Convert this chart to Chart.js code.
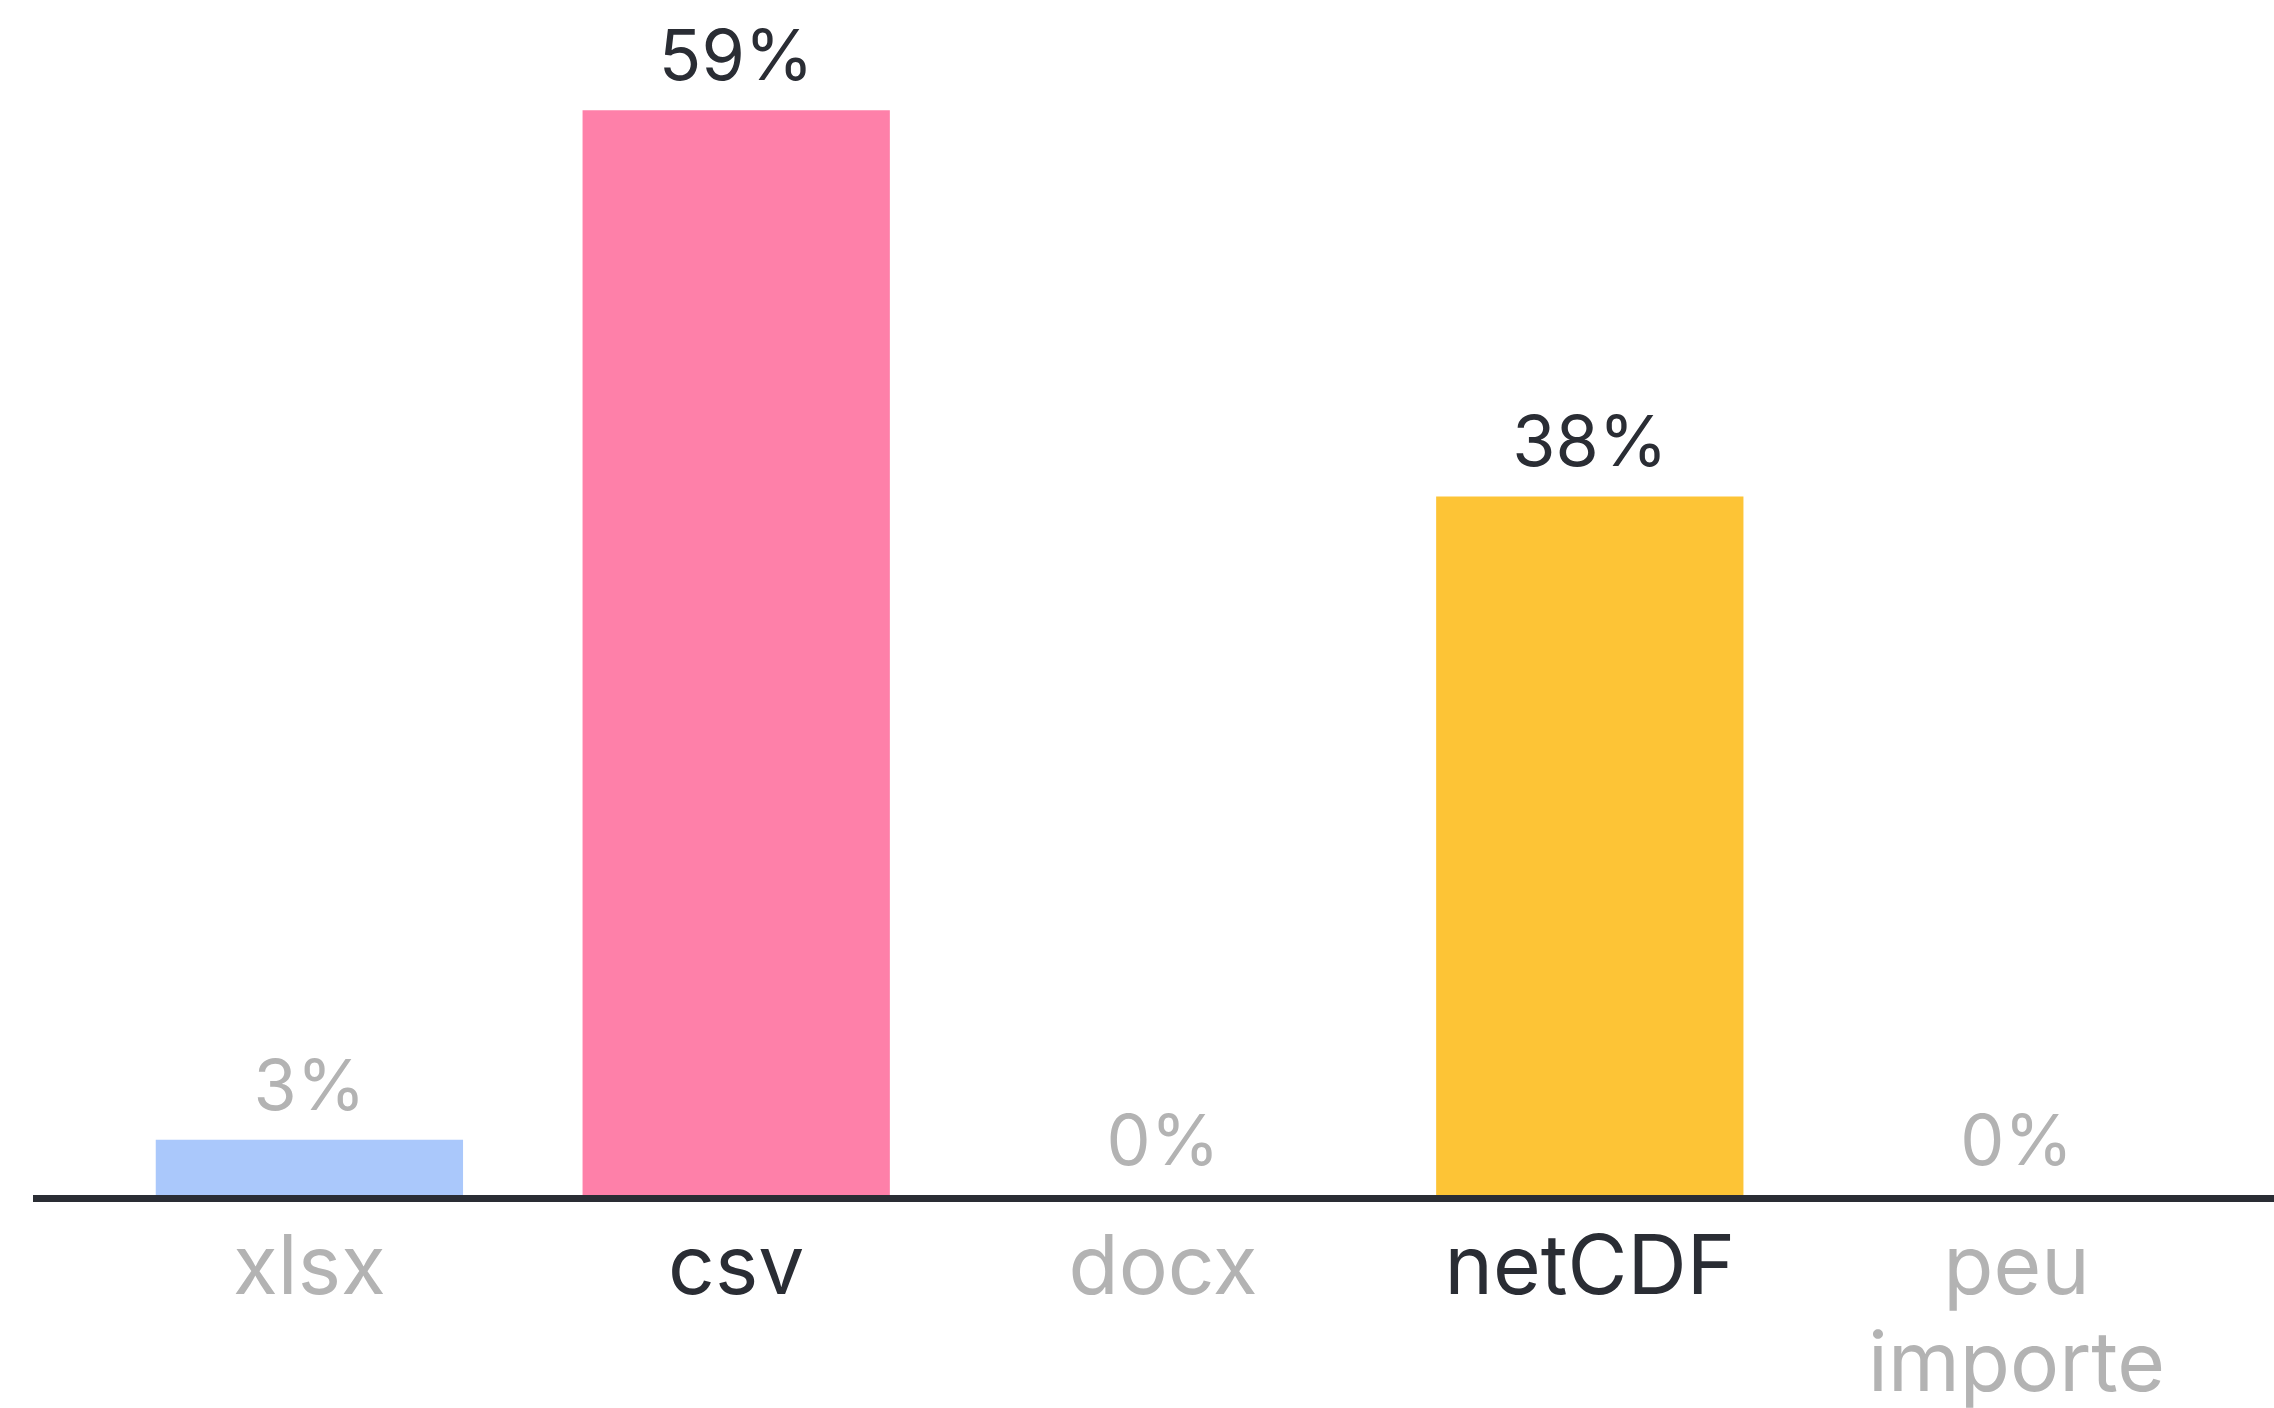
<!DOCTYPE html>
<html>
<head>
<meta charset="utf-8">
<script src="https://cdn.jsdelivr.net/npm/chart.js@4"></script>
<style>
  html, body { margin: 0; padding: 0; background: #fff; }
  #wrap { width: 2274px; height: 1408px; }
</style>
</head>
<body>
<div id="wrap"><canvas id="myChart"></canvas></div>
<script>
const categories = ['xlsx', 'csv', 'docx', 'netCDF', ['peu', 'importe']]
const values = [3, 59, 0, 38, 0]

const barColors = ['#aac8fb', '#fe80a9', '#cccccc', '#fdc436', '#cccccc']
const textColors = ['#b3b3b3', '#2a2d34', '#b3b3b3', '#2a2d34', '#b3b3b3']
const FONT = 'Inter, "Noto Sans", sans-serif'

// value labels above bars + the long baseline
const extras = {
    id: 'extras',
    afterDatasetsDraw(chart) {
        const ctx = chart.ctx
        const area = chart.chartArea
        ctx.save()
        ctx.strokeStyle = '#2a2d34'
        ctx.lineWidth = 7
        ctx.beginPath()
        ctx.moveTo(33, area.bottom + 3.5)
        ctx.lineTo(chart.width, area.bottom + 3.5)
        ctx.stroke()

        ctx.font = '70px ' + FONT
        ctx.textAlign = 'center'
        ctx.textBaseline = 'alphabetic'
        chart.getDatasetMeta(0).data.forEach((bar, i) => {
            ctx.fillStyle = textColors[i]
            ctx.fillText(values[i] + '%', bar.x, bar.y - 30)
        })
        ctx.restore()
    }
}

const ctx = document.getElementById('myChart').getContext('2d')
const chart = new Chart(ctx, {
    type: 'bar',
    data: {
        labels: categories,
        datasets: [{
            data: values,
            backgroundColor: barColors,
            barPercentage: 0.72,
            categoryPercentage: 1
        }]
    },
    options: {
        responsive: true,
        maintainAspectRatio: false,
        animation: false,
        layout: { padding: { left: 96, right: 44, top: 0, bottom: 0 } },
        plugins: { legend: { display: false }, tooltip: { enabled: false } },
        scales: {
            y: { display: false, min: 0, max: 65 },
            x: {
                grid: { display: false, drawTicks: false },
                border: { display: false },
                afterFit(scale) { scale.height = 213 },
                ticks: {
                    color: textColors,
                    padding: 26,
                    maxRotation: 0,
                    autoSkip: false,
                    font: { family: FONT, size: 82, lineHeight: 1.18 }
                }
            }
        }
    },
    plugins: [extras]
})
</script>
</body>
</html>
